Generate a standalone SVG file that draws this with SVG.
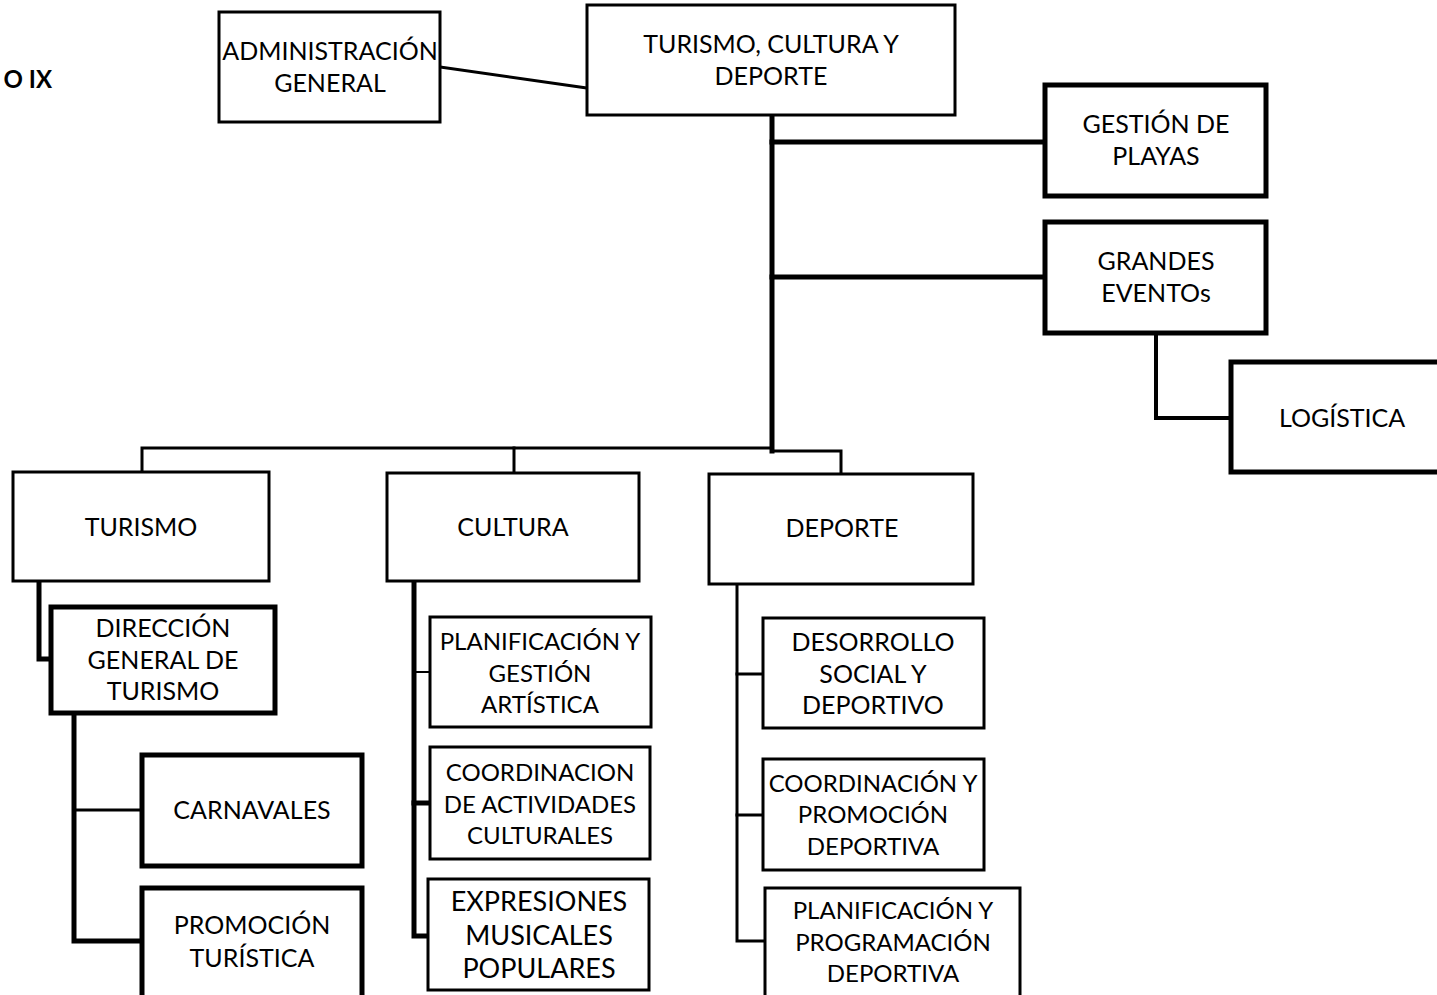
<svg xmlns="http://www.w3.org/2000/svg" width="1437" height="995" viewBox="0 0 1437 995">
<style>
.bx{fill:#fff;stroke:#000;stroke-width:3}
.bk{fill:#fff;stroke:#000;stroke-width:5}
.t{font-family:Lato,"Open Sans",sans-serif;font-size:25px;fill:#000;text-anchor:middle}
.s{font-size:24px}
.l{font-size:27px}
.c{fill:none;stroke:#000;stroke-linecap:square;stroke-linejoin:miter}
</style>
<rect width="1437" height="995" fill="#fff"/>
<text x="52" y="88" font-family="Lato,'Open Sans',sans-serif" font-size="24" font-weight="bold" text-anchor="end">O IX</text>
<g id="connectors">
<path class="c" stroke-width="3" d="M440,67 L587,88"/>
<path class="c" stroke-width="5" d="M772,115 V451"/>
<path class="c" stroke-width="5" d="M772,142 H1045"/>
<path class="c" stroke-width="5" d="M772,277 H1045"/>
<path class="c" stroke-width="4" d="M1156,333 V418 H1231"/>
<path class="c" stroke-width="3" d="M142,472 V448 H772"/>
<path class="c" stroke-width="3" d="M514,448 V473"/>
<path class="c" stroke-width="3" d="M772,451 H841 V474"/>
<path class="c" stroke-width="5" d="M39,581 V659 H51"/>
<path class="c" stroke-width="5" d="M74,713 V941 H142"/>
<path class="c" stroke-width="3" d="M74,810 H142"/>
<path class="c" stroke-width="5" d="M414,581 V936 H430"/>
<path class="c" stroke-width="2" d="M414,672 H430"/>
<path class="c" stroke-width="5" d="M414,803 H430"/>
<path class="c" stroke-width="3" d="M737,584 V941 H765"/>
<path class="c" stroke-width="3" d="M737,674 H763"/>
<path class="c" stroke-width="3" d="M737,815 H763"/>
</g>
<g id="admin"><rect class="bx" x="219" y="12" width="221" height="110"/><text class="t"><tspan x="330" y="60">ADMINISTRACIÓN</tspan><tspan x="330" y="92">GENERAL</tspan></text></g>
<g id="tcd"><rect class="bx" x="587" y="5" width="368" height="110"/><text class="t"><tspan x="771" y="53">TURISMO, CULTURA Y</tspan><tspan x="771" y="85">DEPORTE</tspan></text></g>
<g id="gestion"><rect class="bk" x="1045" y="85" width="221" height="111"/><text class="t"><tspan x="1156" y="133">GESTIÓN DE</tspan><tspan x="1156" y="165">PLAYAS</tspan></text></g>
<g id="grandes"><rect class="bk" x="1045" y="222" width="221" height="111"/><text class="t"><tspan x="1156" y="270">GRANDES</tspan><tspan x="1156" y="302">EVENTOs</tspan></text></g>
<g id="logistica"><rect class="bk" x="1231" y="362" width="230" height="110"/><text class="t" x="1342" y="427">LOGÍSTICA</text></g>
<g id="turismo"><rect class="bx" x="13" y="472" width="256" height="109"/><text class="t" x="141" y="536">TURISMO</text></g>
<g id="cultura"><rect class="bx" x="387" y="473" width="252" height="108"/><text class="t" x="513" y="536">CULTURA</text></g>
<g id="deporte"><rect class="bx" x="709" y="474" width="264" height="110"/><text class="t" x="842" y="537">DEPORTE</text></g>
<g id="dgt"><rect class="bk" x="51" y="607" width="224" height="106"/><text class="t"><tspan x="163" y="637">DIRECCIÓN</tspan><tspan x="163" y="669">GENERAL DE</tspan><tspan x="163" y="700">TURISMO</tspan></text></g>
<g id="carnavales"><rect class="bk" x="142" y="755" width="220" height="111"/><text class="t" x="252" y="819">CARNAVALES</text></g>
<g id="promocion"><rect class="bk" x="142" y="888" width="220" height="130"/><text class="t"><tspan x="252" y="934">PROMOCIÓN</tspan><tspan x="252" y="967">TURÍSTICA</tspan></text></g>
<g id="planif-gestion"><rect class="bx" x="430" y="617" width="221" height="110"/><text class="t s"><tspan x="540" y="650">PLANIFICACIÓN Y</tspan><tspan x="540" y="682">GESTIÓN</tspan><tspan x="540" y="713">ARTÍSTICA</tspan></text></g>
<g id="coordinacion"><rect class="bx" x="430" y="747" width="220" height="112"/><text class="t s"><tspan x="540" y="781">COORDINACION</tspan><tspan x="540" y="813">DE ACTIVIDADES</tspan><tspan x="540" y="844">CULTURALES</tspan></text></g>
<g id="expresiones"><rect class="bx" x="428" y="879" width="221" height="111"/><text class="t l"><tspan x="539" y="911">EXPRESIONES</tspan><tspan x="539" y="945">MUSICALES</tspan><tspan x="539" y="978">POPULARES</tspan></text></g>
<g id="desorrollo"><rect class="bx" x="763" y="618" width="221" height="110"/><text class="t"><tspan x="873" y="651">DESORROLLO</tspan><tspan x="873" y="683">SOCIAL Y</tspan><tspan x="873" y="714">DEPORTIVO</tspan></text></g>
<g id="coord-promocion"><rect class="bx" x="763" y="759" width="221" height="111"/><text class="t s"><tspan x="873" y="792">COORDINACIÓN Y</tspan><tspan x="873" y="823">PROMOCIÓN</tspan><tspan x="873" y="855">DEPORTIVA</tspan></text></g>
<g id="planif-prog"><rect class="bx" x="765" y="888" width="255" height="130"/><text class="t s"><tspan x="893" y="919">PLANIFICACIÓN Y</tspan><tspan x="893" y="951">PROGRAMACIÓN</tspan><tspan x="893" y="982">DEPORTIVA</tspan></text></g>
</svg>
